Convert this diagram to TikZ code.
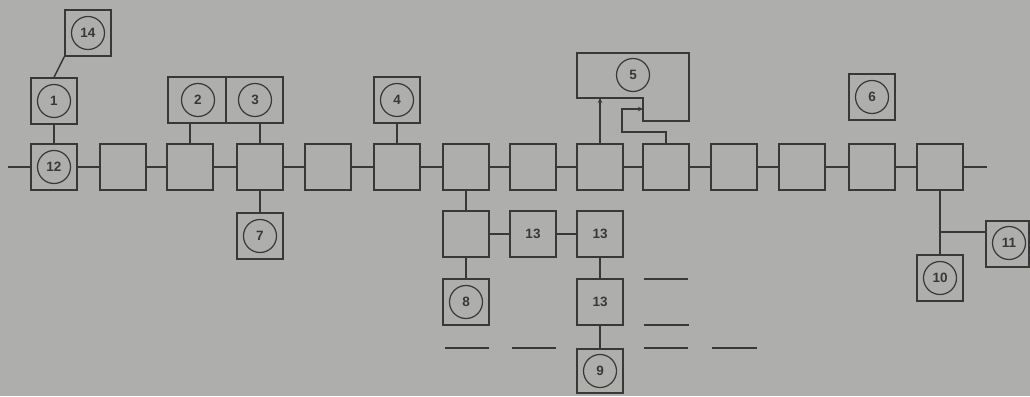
\documentclass[tikz,border=0pt]{standalone}
\usepackage{fontspec}
\setmainfont{Liberation Sans}
\usetikzlibrary{arrows.meta}
\definecolor{bg}{RGB}{174,174,172}
\definecolor{ink}{RGB}{56,56,56}
\begin{document}
\begin{tikzpicture}[x=1pt,y=-1pt]
\tikzset{
  sq/.style={draw=ink, line width=1.5pt, minimum width=46pt, minimum height=46pt, inner sep=0pt},
  circ/.style={draw=ink, circle, line width=1.2pt, minimum size=33pt, inner sep=0pt, text=ink, font=\bfseries\fontsize{13.5}{13.5}\selectfont},
  lbl/.style={text=ink, font=\bfseries\fontsize{13.5}{13.5}\selectfont},
  wire/.style={draw=ink, line width=1.5pt},
  dashline/.style={draw=ink, line width=1.1pt},
  arr/.style={wire, -{Stealth[length=5pt,width=4.5pt]}}
}
\fill[bg] (0,0) rectangle (1030,396);
\useasboundingbox (0,0) rectangle (1030,396);
% main row
\foreach \i/\x in {1/54,2/123,3/190,4/260,5/328,6/397,7/466,8/533,9/600,10/666,11/734,12/802,13/872,14/940}
  \node[sq] (m\i) at (\x,167) {};
\node[circ] (c12) at (m1) {12};
\coordinate (L) at (8,167);
\coordinate (R) at (987,167);
\draw[wire] (L) -- (m1.west);
\foreach \a/\b in {1/2,2/3,3/4,4/5,5/6,6/7,7/8,8/9,9/10,10/11,11/12,12/13,13/14}
  \draw[wire] (m\a.east) -- (m\b.west);
\draw[wire] (m14.east) -- (R);
% top row
\node[sq] (b14) at (88,33) {};
\node[circ] (c14) at (b14) {14};
\node[sq] (b1) at (54,101) {};
\node[circ] (c1) at (b1) {1};
\draw[wire] (b14.south west) -- (b1.north);
\draw[wire] (b1.south) -- (m1.north);
\node[sq, minimum width=58pt] (b2) at (197,100) {};
\node[sq, minimum width=57pt] (b3) at (254.5,100) {};
\node[circ] (c2) at (198,100) {2};
\node[circ] (c3) at (255,100) {3};
\draw[wire] (b2.south -| m3) -- (m3.north);
\draw[wire] (b3.south -| m4) -- (m4.north);
\node[sq] (b4) at (397,100) {};
\node[circ] (c4) at (b4) {4};
\draw[wire] (b4.south) -- (m6.north);
% box 5
\draw[wire] (577,53) -- (689,53) -- (689,121) -- (643,121) -- (643,98) -- (577,98) -- cycle;
\node[circ] (c5) at (633,75) {5};
\coordinate (p5a) at (600,98);
\coordinate (p5b) at (643,109);
\draw[arr] (m9.north) -- (p5a);
\draw[arr] (m10.north) |- (622,132) |- (p5b);
\node[sq] (b6) at (872,97) {};
\node[circ] (c6) at (b6) {6};
% bottom
\node[sq] (b7) at (260,236) {};
\node[circ] (c7) at (b7) {7};
\draw[wire] (m4.south) -- (b7.north);
\node[sq] (s1) at (466,234) {};
\node[sq] (t1) at (533,234) {};
\node[lbl] at (t1) {13};
\node[sq] (t2) at (600,234) {};
\node[lbl] at (t2) {13};
\draw[wire] (m7.south) -- (s1.north);
\draw[wire] (s1.east) -- (t1.west);
\draw[wire] (t1.east) -- (t2.west);
\node[sq] (b8) at (466,302) {};
\node[circ] (c8) at (b8) {8};
\draw[wire] (s1.south) -- (b8.north);
\node[sq] (t3) at (600,302) {};
\node[lbl] at (t3) {13};
\draw[wire] (t2.south) -- (t3.north);
\node[sq, minimum height=44pt] (b9) at (600,371) {};
\node[circ] (c9) at (b9) {9};
\draw[wire] (t3.south) -- (b9.north);
% dashes
\draw[dashline] (644,279) -- (688,279);
\draw[dashline] (644,325) -- (689,325);
\draw[dashline] (445,348) -- (489,348);
\draw[dashline] (512,348) -- (556,348);
\draw[dashline] (644,348) -- (688,348);
\draw[dashline] (712,348) -- (757,348);
% right
\node[sq] (b10) at (940,278) {};
\node[circ] (c10) at (b10) {10};
\node[sq, minimum width=43pt] (b11) at (1007.5,244) {};
\node[circ] (c11) at (1009,243) {11};
\draw[wire] (m14.south) -- (b10.north);
\coordinate (j) at (940,232);
\draw[wire] (j) -- (j -| b11.west);
\end{tikzpicture}
\end{document}
